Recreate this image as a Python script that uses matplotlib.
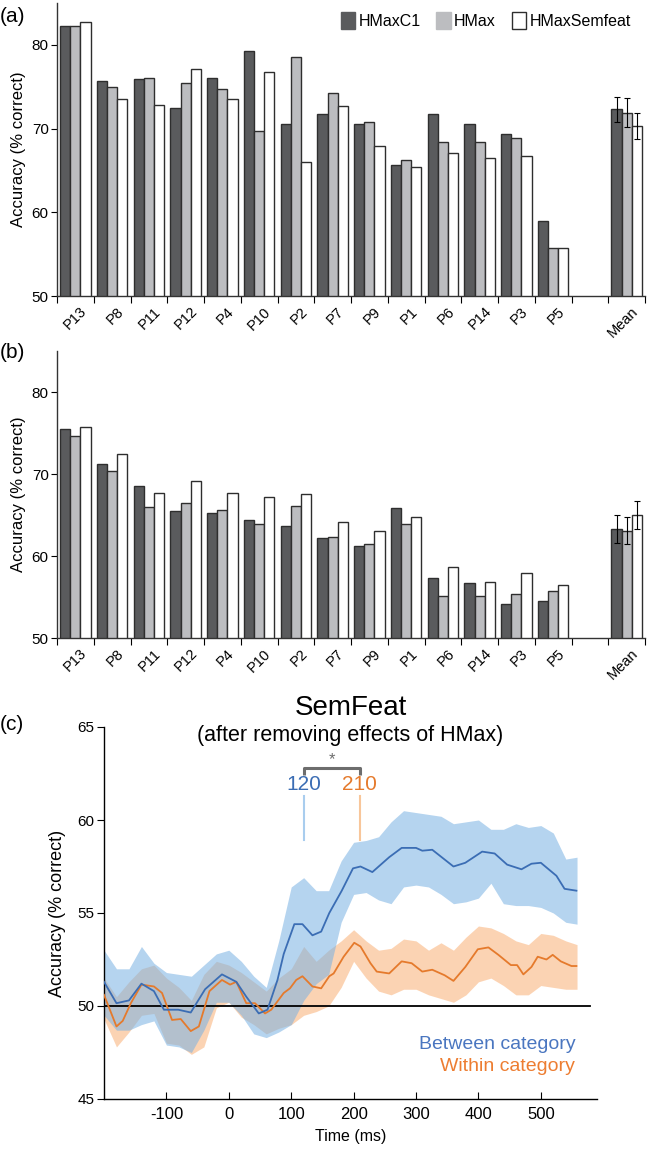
import matplotlib
matplotlib.use("Agg")
import matplotlib.pyplot as plt
import numpy as np
from matplotlib.patches import Patch

plt.rcParams['font.family'] = ['Liberation Sans', 'DejaVu Sans']
plt.rcParams['axes.unicode_minus'] = False
NARROW = ['Liberation Sans Narrow', 'Liberation Sans', 'DejaVu Sans']

# ---------------- data ----------------
participants = ['P13', 'P8', 'P11', 'P12', 'P4', 'P10', 'P2', 'P7', 'P9', 'P1', 'P6', 'P14', 'P3', 'P5']
series_names = ['HMaxC1', 'HMax', 'HMaxSemfeat']

a_hmaxc1 = [82.2, 75.7, 75.9, 72.4, 76.1, 79.3, 70.5, 71.7, 70.5, 65.6, 71.7, 70.6, 69.4, 59.0]
a_hmax = [82.2, 75.0, 76.1, 75.5, 74.7, 69.7, 78.6, 74.3, 70.8, 66.3, 68.4, 68.4, 68.9, 55.7]
a_semfeat = [82.7, 73.5, 72.8, 77.1, 73.5, 76.8, 66.0, 72.7, 67.9, 65.4, 67.1, 66.5, 66.7, 55.7]
a_mean = [72.3, 71.9, 70.3]
a_err = [1.5, 1.75, 1.6]

b_hmaxc1 = [75.45, 71.2, 68.5, 65.5, 65.2, 64.4, 63.6, 62.2, 61.2, 65.9, 57.3, 56.7, 54.1, 54.5]
b_hmax = [74.6, 70.4, 66.0, 66.5, 65.65, 63.9, 66.1, 62.3, 61.5, 63.9, 55.1, 55.1, 55.4, 55.7]
b_semfeat = [75.7, 72.4, 67.7, 69.1, 67.7, 67.2, 67.6, 64.2, 63.1, 64.8, 58.6, 56.8, 57.9, 56.5]
b_mean = [63.3, 63.1, 65.0]
b_err = [1.7, 1.6, 1.65]

# panel (c): time courses
between_t = [-200, -180, -160, -140, -120, -104, -81, -61, -38, -11, 12, 28, 48, 62, 78, 88, 105, 118,
             134, 148, 161, 181, 199, 211, 230, 257, 277, 300, 310, 326, 360, 379, 406, 426, 446, 469,
             485, 500, 525, 538, 557]
between_v = [51.3, 50.15, 50.3, 51.2, 50.8, 49.8, 49.8, 49.65, 50.9, 51.7, 51.3, 50.5, 49.6, 49.8, 51.4,
             52.8, 54.4, 54.4, 53.8, 54.0, 55.0, 56.2, 57.4, 57.5, 57.2, 58.0, 58.5, 58.5, 58.35, 58.4,
             57.5, 57.7, 58.3, 58.2, 57.6, 57.35, 57.65, 57.7, 57.0, 56.3, 56.2]
within_t = [-200, -180, -170, -157, -140, -120, -107, -91, -77, -61, -48, -31, -11, 2, 12, 28, 42, 58,
            68, 88, 98, 108, 118, 134, 148, 161, 168, 184, 201, 211, 227, 237, 257, 277, 293, 310, 326,
            346, 360, 379, 399, 416, 432, 452, 462, 472, 485, 495, 509, 519, 532, 549, 557]
within_v = [50.6, 48.9, 49.2, 50.15, 51.15, 51.05, 50.7, 49.25, 49.3, 48.65, 48.9, 50.8, 51.4, 51.15,
            51.3, 50.15, 50.15, 49.6, 49.8, 50.7, 50.95, 51.4, 51.6, 51.05, 50.95, 51.6, 51.75, 52.65,
            53.4, 53.2, 52.3, 51.85, 51.75, 52.4, 52.3, 51.85, 51.95, 51.65, 51.35, 52.1, 53.05, 53.15,
            52.75, 52.2, 52.2, 51.7, 52.1, 52.65, 52.5, 52.75, 52.4, 52.15, 52.15]

band_t = [-200, -180, -160, -140, -120, -100, -80, -60, -40, -20, 0, 20, 40, 60, 80, 100, 120, 140,
          160, 180, 200, 220, 240, 260, 280, 300, 320, 340, 360, 380, 400, 420, 440, 460, 480, 500,
          520, 540, 558]
between_hi = [53.0, 52.0, 52.0, 53.2, 52.3, 51.8, 51.7, 51.6, 52.2, 52.8, 53.0, 52.4, 51.6, 51.0, 53.5,
              56.4, 56.9, 56.2, 56.2, 57.8, 58.8, 58.9, 59.1, 59.9, 60.5, 60.4, 60.3, 60.2, 59.8, 59.9,
              60.0, 59.5, 59.5, 59.8, 59.6, 59.7, 59.3, 57.9, 58.0]
between_lo = [49.5, 48.7, 48.7, 49.0, 49.2, 47.9, 47.8, 47.5, 48.7, 50.2, 50.2, 49.5, 48.5, 48.3, 48.6,
              49.0, 50.3, 51.2, 51.7, 54.5, 56.0, 56.1, 55.7, 55.5, 56.4, 56.5, 56.4, 56.0, 55.5, 55.6,
              55.8, 56.6, 55.5, 55.4, 55.4, 55.3, 55.0, 54.5, 54.4]
within_hi = [51.5, 50.5, 51.3, 52.0, 52.2, 51.5, 51.0, 50.3, 51.7, 52.4, 52.2, 51.8, 51.3, 50.8, 51.5,
             52.0, 53.2, 52.4, 53.0, 53.5, 54.1, 53.5, 53.0, 53.1, 53.6, 53.5, 53.0, 53.4, 53.0, 53.7,
             54.3, 54.2, 53.9, 53.5, 53.3, 53.9, 53.8, 53.5, 53.3]
within_lo = [49.3, 47.8, 48.6, 49.5, 49.6, 48.0, 47.9, 47.4, 47.8, 49.9, 50.2, 49.4, 49.0, 48.5, 48.8,
             49.0, 49.5, 49.7, 50.0, 51.0, 52.4, 51.5, 50.8, 50.6, 50.9, 50.9, 50.6, 50.4, 50.2, 50.6,
             51.3, 51.5, 51.1, 50.6, 50.6, 51.1, 51.0, 50.9, 50.9]

onset_between = 120
onset_within = 210

# ---------------- figure ----------------
W, H = 648, 1149
fig = plt.figure(figsize=(W / 100, H / 100), dpi=100)

def px_axes(left, top, right, bottom):
    return fig.add_axes([left / W, 1 - bottom / H, (right - left) / W, (bottom - top) / H])

DARK = '#5a5b5d'
GRAY = '#bcbdc0'
WHITE = '#ffffff'
EDGE = '#2e2e2e'
colors = [DARK, GRAY, WHITE]

def bar_panel(ax, vals, mean, err):
    n = len(participants)
    labels = participants + ['', 'Mean']
    slots = np.arange(n + 2)
    bw = 0.275
    for k in range(3):
        xs = np.arange(n) + (k - 1) * bw
        ax.bar(xs, vals[k], width=bw, bottom=0, color=colors[k], edgecolor=EDGE, linewidth=1.0, zorder=2)
        ax.bar(n + 1 + (k - 1) * bw, mean[k], width=bw, color=colors[k], edgecolor=EDGE,
               linewidth=1.0, zorder=2)
        ax.errorbar(n + 1 + (k - 1) * bw, mean[k], yerr=err[k], fmt='none', ecolor='black',
                    elinewidth=0.8, capsize=2, capthick=0.8, zorder=3)
    ax.set_ylim(50, 85)
    ax.set_xlim(-0.5, n + 1.5)
    ax.set_yticks([50, 60, 70, 80])
    ax.tick_params(axis='y', labelsize=11, length=4, width=0.8, direction='out', pad=2)
    for lab in ax.get_yticklabels():
        lab.set_family(NARROW)
    ax.set_xticks(np.arange(-0.5, n + 2, 1.0))
    ax.set_xticklabels([])
    ax.tick_params(axis='x', which='major', length=5, width=0.8, direction='out')
    ax.set_xticks(slots + 0.12, minor=True)
    ax.set_xticklabels(labels, minor=True, rotation=45, ha='right', rotation_mode='anchor',
                       fontsize=10.5, family=NARROW)
    ax.tick_params(axis='x', which='minor', length=0, pad=6)
    for s in ['top', 'right']:
        ax.spines[s].set_visible(False)
    for s in ['left', 'bottom']:
        ax.spines[s].set_linewidth(1.0)
        ax.spines[s].set_color('#333333')
    ax.set_ylabel('Accuracy (% correct)', fontsize=12, labelpad=4)

# panel (a)
ax_a = px_axes(57, 3, 645, 296)
bar_panel(ax_a, [a_hmaxc1, a_hmax, a_semfeat], a_mean, a_err)
handles = [Patch(facecolor=c, edgecolor=EDGE if c == WHITE else c, linewidth=1.0) for c in colors]
ax_a.legend(handles, series_names, loc='upper right', bbox_to_anchor=(1.0, 1.02), ncol=3,
            frameon=False, handlelength=0.9, handleheight=1.3, handletextpad=0.2,
            columnspacing=1.0, prop={'family': NARROW, 'size': 11.5})
fig.text(0 / W, 1 - 16 / H, '(a)', fontsize=15, va='center', ha='left')

# panel (b)
ax_b = px_axes(57, 351, 645, 638)
bar_panel(ax_b, [b_hmaxc1, b_hmax, b_semfeat], b_mean, b_err)
fig.text(0 / W, 1 - 352 / H, '(b)', fontsize=15, va='center', ha='left')

# panel (c)
BLUE = '#3b6db4'
ORANGE = '#e57a2c'
ax_c = px_axes(104, 727, 597, 1099)
ax_c.fill_between(band_t, within_lo, within_hi, color='#f9a868', alpha=0.5, linewidth=0, zorder=1)
ax_c.fill_between(band_t, between_lo, between_hi, color='#78b1e3', alpha=0.55, linewidth=0, zorder=1)
ax_c.axhline(50, color='black', lw=1.3, xmin=0, xmax=(578 + 200) / 790, zorder=2)
ax_c.plot(within_t, within_v, color=ORANGE, lw=1.3, zorder=3)
ax_c.plot(between_t, between_v, color=BLUE, lw=1.3, zorder=4)

ax_c.set_xlim(-200, 590)
ax_c.set_ylim(45, 65)
ax_c.set_xticks([-100, 0, 100, 200, 300, 400, 500])
ax_c.set_yticks([45, 50, 55, 60, 65])
ax_c.tick_params(axis='x', direction='in', length=5, width=0.8, labelsize=12, pad=6)
ax_c.tick_params(axis='y', direction='out', length=5, width=0.8, labelsize=11, pad=2)
for lab in ax_c.get_xticklabels() + ax_c.get_yticklabels():
    lab.set_family(NARROW)
for s in ['top', 'right']:
    ax_c.spines[s].set_visible(False)
for s in ['left', 'bottom']:
    ax_c.spines[s].set_linewidth(1.0)
ax_c.set_xlabel('Time (ms)', fontsize=11.5, family=NARROW, labelpad=5)
ax_c.set_ylabel('Accuracy (% correct)', fontsize=13, labelpad=8)

# onset markers
ax_c.plot([onset_between, onset_between], [58.9, 61.3], color='#a9cdee', lw=1.5, zorder=3)
ax_c.plot([onset_within, onset_within], [58.9, 61.3], color='#f8c69a', lw=1.5, zorder=3)
ax_c.text(onset_between, 61.9, str(onset_between), color=BLUE, fontsize=15, ha='center', va='center',
          family=NARROW)
ax_c.text(onset_within, 61.9, str(onset_within), color=ORANGE, fontsize=15, ha='center', va='center',
          family=NARROW)
ax_c.plot([onset_between, onset_between, onset_within, onset_within], [62.4, 62.8, 62.8, 62.4],
          color='#6d6d6d', lw=2.2, solid_capstyle='butt', zorder=3)
ax_c.text((onset_between + onset_within) / 2, 63.25, '*', color='#6d6d6d', fontsize=12,
          ha='center', va='center')

ax_c.text(555, 47.95, 'Between category', color='#4a76c0', fontsize=14, ha='right', va='center',
          family=NARROW)
ax_c.text(555, 46.75, 'Within category', color='#ed7d31', fontsize=14, ha='right', va='center',
          family=NARROW)

fig.text(((104 + 597) / 2) / W, 1 - 708 / H, 'SemFeat', fontsize=20, ha='center', va='center')
fig.text(((104 + 597) / 2) / W, 1 - 736 / H, '(after removing effects of HMax)', fontsize=15.5,
         ha='center', va='center', family=NARROW)
fig.text(0 / W, 1 - 725 / H, '(c)', fontsize=15, va='center', ha='left')

fig.savefig('out.png', dpi=100)
